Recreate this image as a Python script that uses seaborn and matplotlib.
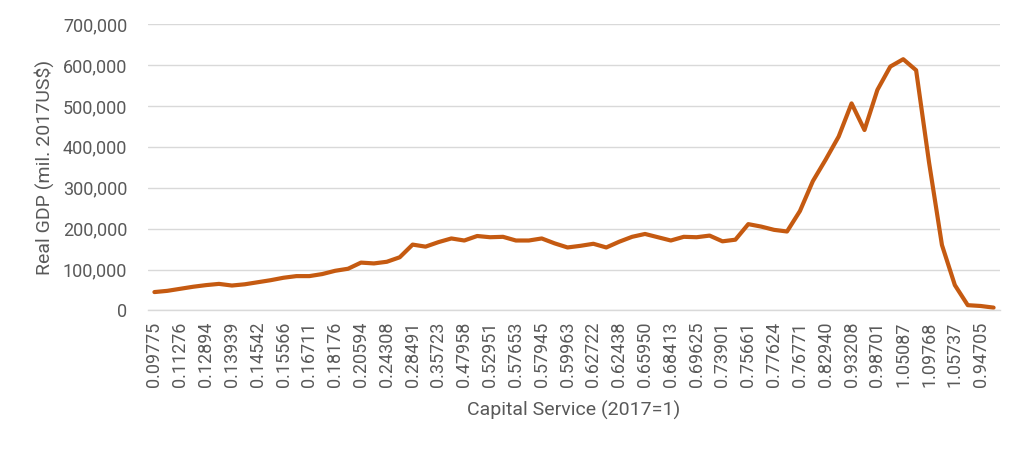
import numpy as np
import pandas as pd
import matplotlib
matplotlib.use("Agg")
import matplotlib.pyplot as plt
import seaborn as sns

# Tick labels (every other category is labelled)
tick_labels = ["0.09775", "0.11276", "0.12894", "0.13939", "0.14542", "0.15566",
               "0.16711", "0.18176", "0.20594", "0.24308", "0.28491", "0.35723",
               "0.47958", "0.52951", "0.57653", "0.57945", "0.59963", "0.62722",
               "0.62438", "0.65950", "0.68413", "0.69625", "0.73901", "0.75661",
               "0.77624", "0.76771", "0.82940", "0.93208", "0.98701", "1.05087",
               "1.09768", "1.05737", "0.94705"]

# Real GDP values (mil. 2017US$), one per category
gdp = [45000, 48000, 53000, 58000, 62000, 65000, 61000, 64000, 69000, 74000,
       80000, 84000, 84000, 89000, 97000, 102000, 117000, 115000, 119000, 130000,
       161000, 156000, 167000, 176000, 171000, 182000, 179000, 180000, 171000, 171000,
       176000, 164000, 154000, 158000, 163000, 154000, 168000, 180000, 187000, 179000,
       171000, 180000, 179000, 183000, 169000, 173000, 211000, 205000, 197000, 193000,
       243000, 316000, 369000, 425000, 506000, 441000, 539000, 596000, 614000, 587000,
       362000, 160000, 62000, 13000, 11000, 7000]

df = pd.DataFrame({"pos": np.arange(len(gdp)), "gdp": gdp})

sns.set_theme(style="white")
plt.rcParams["font.family"] = ["Roboto", "DejaVu Sans"]

fig = plt.figure(figsize=(10.24, 4.53), dpi=100)
ax = fig.add_axes([0.1445, 0.3146, 0.8321, 0.6324])

sns.lineplot(data=df, x="pos", y="gdp", ax=ax, color="#C55A11", linewidth=3.0)

ax.set_xlim(-0.5, len(gdp) - 0.5)
ax.set_ylim(0, 700000)
ax.set_yticks(np.arange(0, 700001, 100000))
ax.set_yticklabels([f"{v:,}" for v in range(0, 700001, 100000)])
ax.yaxis.grid(True, color="#D9D9D9", linewidth=1)
ax.xaxis.grid(False)

pos_ticks = np.arange(0, len(gdp), 2)[:len(tick_labels)]
ax.set_xticks(pos_ticks)
ax.set_xticklabels(tick_labels, rotation=90)

for s in ["top", "right", "left"]:
    ax.spines[s].set_visible(False)
ax.spines["bottom"].set_color("#D9D9D9")
ax.spines["bottom"].set_linewidth(1)

ax.tick_params(axis="both", length=0, labelsize=13, labelcolor="#595959")
ax.tick_params(axis="x", pad=8)
ax.tick_params(axis="y", pad=15)

ax.set_xlabel("Capital Service (2017=1)", fontsize=14, color="#595959", labelpad=10)
ax.set_ylabel("Real GDP (mil. 2017US$)", fontsize=14, color="#595959", labelpad=6)

fig.savefig("out.png", dpi=100)
